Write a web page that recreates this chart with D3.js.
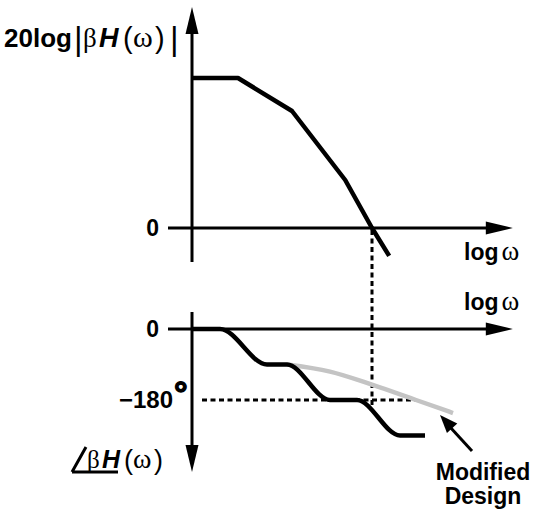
<!DOCTYPE html>
<html>
<head>
<meta charset="utf-8">
<script src="https://cdn.jsdelivr.net/npm/d3@7"></script>
<style>
  html, body { margin: 0; padding: 0; background: #fff; }
  svg { display: block; }
  .sans { font-family: "Liberation Sans", Arial, Helvetica, sans-serif; }
  .serif { font-family: "Liberation Serif", "Times New Roman", serif; }
</style>
</head>
<body>
<svg id="chart" width="534" height="511"></svg>
<script>
// Loop gain magnitude: corner points (log ω, dB)
const magLogW = [0, 1.15, 2.5, 3.83, 4.5, 4.93];
const magDb   = [50, 50, 39, 16, 0, -9.3];

// Loop gain phase, original design (log ω, degrees)
const phaseLogW = [0, 0.7, 1.875, 2.375, 3.45, 4.125, 5.2, 5.825];
const phaseDeg  = [0, 0, -90, -90, -180, -180, -270, -270];

// Loop gain phase, modified design
const modLogW = [2.375, 3.45, 4.5, 5.6, 6.525];
const modDeg  = [-90, -108, -141, -180, -213];

// Gain crossover frequency and phase reference
const crossoverLogW = 4.5;
const phaseRef = -180;

// Tick labels
const magTicks = ["0"];
const phaseTicks = ["0", "\u2212180"];

const svg = d3.select("#chart");

const x = d3.scaleLinear().domain([0, 8]).range([192, 512]);
const yMag = d3.scaleLinear().domain([0, 50]).range([228, 78]);
const yPh = d3.scaleLinear().domain([0, -180]).range([329, 400]);

const ink = "#000";

// arrowhead helper: filled triangle with tip at (tx,ty) pointing along (dx,dy)
function arrowHead(tx, ty, dx, dy, len, half) {
  const n = Math.hypot(dx, dy); const ux = dx / n, uy = dy / n;
  const bx = tx - ux * len, by = ty - uy * len;
  const px = -uy * half, py = ux * half;
  svg.append("path")
    .attr("d", `M${tx},${ty}L${bx + px},${by + py}L${bx - px},${by - py}Z`)
    .attr("fill", ink);
}

function axisLine(x1, y1, x2, y2) {
  svg.append("line")
    .attr("x1", x1).attr("y1", y1).attr("x2", x2).attr("y2", y2)
    .attr("stroke", ink).attr("stroke-width", 3);
}

// ---------- magnitude panel ----------
const magTop = yMag.invert(7), magBottom = yMag.invert(262);
axisLine(x(0), yMag(magBottom), x(0), yMag(magTop) + 20);
arrowHead(x(0), yMag(magTop), 0, -1, 27, 6.5);
axisLine(x(-0.6), yMag(0), x(8.02) - 20, yMag(0));
arrowHead(x(8.02), yMag(0), 1, 0, 27, 6.5);

// ---------- phase panel ----------
const phTop = yPh.invert(312), phBottom = yPh.invert(472);
axisLine(x(0), yPh(phTop), x(0), yPh(phBottom) - 20);
arrowHead(x(0), yPh(phBottom), 0, 1, 27, 6.5);
axisLine(x(-0.6), yPh(0), x(8.02) - 20, yPh(0));
arrowHead(x(8.02), yPh(0), 1, 0, 27, 6.5);

// dashed guides: crossover frequency and -180° line
svg.append("line")
  .attr("x1", x(crossoverLogW)).attr("x2", x(crossoverLogW))
  .attr("y1", yMag(0) + 2).attr("y2", yPh(-200))
  .attr("stroke", ink).attr("stroke-width", 3).attr("stroke-dasharray", "5,3.5");
svg.append("line")
  .attr("x1", x(0.25)).attr("x2", x(5.62))
  .attr("y1", yPh(phaseRef)).attr("y2", yPh(phaseRef))
  .attr("stroke", ink).attr("stroke-width", 3).attr("stroke-dasharray", "5,3.5");

// modified design phase (grey)
const modLine = d3.line().x(d => x(d[0])).y(d => yPh(d[1])).curve(d3.curveMonotoneX);
svg.append("path")
  .attr("d", modLine(d3.zip(modLogW, modDeg)))
  .attr("fill", "none").attr("stroke", "#c4c4c4").attr("stroke-width", 4.5);

// original phase (black)
const phLine = d3.line().x(d => x(d[0])).y(d => yPh(d[1])).curve(d3.curveMonotoneX);
svg.append("path")
  .attr("d", phLine(d3.zip(phaseLogW, phaseDeg)))
  .attr("fill", "none").attr("stroke", ink).attr("stroke-width", 4.5);

// magnitude curve
const magLine = d3.line().x(d => x(d[0])).y(d => yMag(d[1]));
svg.append("path")
  .attr("d", magLine(d3.zip(magLogW, magDb)))
  .attr("fill", "none").attr("stroke", ink).attr("stroke-width", 4.5)
  .attr("stroke-linejoin", "round");

// ---------- labels ----------
// tick labels
svg.append("text").attr("class", "sans")
  .attr("x", 159).attr("y", yMag(0) + 8)
  .attr("text-anchor", "end").attr("font-weight", "bold").attr("font-size", 23)
  .text(magTicks[0]);
svg.append("text").attr("class", "sans")
  .attr("x", 159).attr("y", yPh(0) + 8)
  .attr("text-anchor", "end").attr("font-weight", "bold").attr("font-size", 23)
  .text(phaseTicks[0]);
const t180 = svg.append("text").attr("class", "sans")
  .attr("x", 119).attr("y", yPh(phaseRef) + 8)
  .attr("font-weight", "bold").attr("font-size", 24);
t180.append("tspan").text(phaseTicks[1]);
t180.append("tspan").attr("dy", -3).attr("dx", 1).attr("font-size", 34)
  .attr("stroke", ink).attr("stroke-width", 1.3).text("\u00B0");

// axis titles: log ω
function logOmega(xx, yy) {
  const t = svg.append("text").attr("x", xx).attr("y", yy);
  t.append("tspan").attr("class", "sans").attr("font-weight", "bold")
    .attr("font-size", 23).text("log");
  t.append("tspan").attr("class", "serif").attr("dx", 3)
    .attr("font-size", 27).text("\u03C9");
}
logOmega(464, 260);
logOmega(464, 310);

// magnitude axis title: 20log|βH(ω)|
const yl = svg.append("text").attr("y", 47);
yl.append("tspan").attr("class", "sans").attr("x", 4).attr("font-weight", "bold")
  .attr("font-size", 26).text("20log");
yl.append("tspan").attr("class", "sans").attr("x", 74).attr("font-size", 33).attr("dy", 3).text("|");
yl.append("tspan").attr("class", "serif").attr("x", 83).attr("dy", -3).attr("font-size", 27).text("\u03B2");
yl.append("tspan").attr("class", "sans").attr("x", 99).attr("font-weight", "bold")
  .attr("font-style", "italic").attr("font-size", 27).text("H");
yl.append("tspan").attr("class", "sans").attr("x", 123).attr("font-size", 29).attr("dy", 1).text("(");
yl.append("tspan").attr("class", "serif").attr("x", 133).attr("font-size", 30).attr("dy", -1).text("\u03C9");
yl.append("tspan").attr("class", "sans").attr("x", 155).attr("font-size", 29).attr("dy", 1).text(")");
yl.append("tspan").attr("class", "sans").attr("x", 170).attr("font-size", 33).attr("dy", 2).text("|");

// phase axis title: ∠βH(ω)
svg.append("path")
  .attr("d", "M72,472L86,447M72,472L118,472")
  .attr("fill", "none").attr("stroke", ink).attr("stroke-width", 3);
const pl = svg.append("text").attr("y", 468);
pl.append("tspan").attr("class", "serif").attr("x", 87).attr("font-size", 25).text("\u03B2");
pl.append("tspan").attr("class", "sans").attr("x", 102).attr("font-weight", "bold")
  .attr("font-style", "italic").attr("font-size", 25).text("H");
pl.append("tspan").attr("class", "sans").attr("x", 124).attr("font-size", 27).attr("dy", 1).text("(");
pl.append("tspan").attr("class", "serif").attr("x", 133).attr("font-size", 28).attr("dy", -1).text("\u03C9");
pl.append("tspan").attr("class", "sans").attr("x", 154).attr("font-size", 27).attr("dy", 1).text(")");

// annotation: Modified Design
svg.append("line")
  .attr("x1", 472).attr("y1", 451).attr("x2", 450).attr("y2", 427)
  .attr("stroke", ink).attr("stroke-width", 3);
arrowHead(440, 415, -32, -35, 18, 7);
const md = svg.append("text").attr("class", "sans")
  .attr("font-weight", "bold").attr("font-size", 23).attr("text-anchor", "middle");
md.append("tspan").attr("x", 483).attr("y", 480).text("Modified");
md.append("tspan").attr("x", 483).attr("y", 504).text("Design");
</script>
</body>
</html>
